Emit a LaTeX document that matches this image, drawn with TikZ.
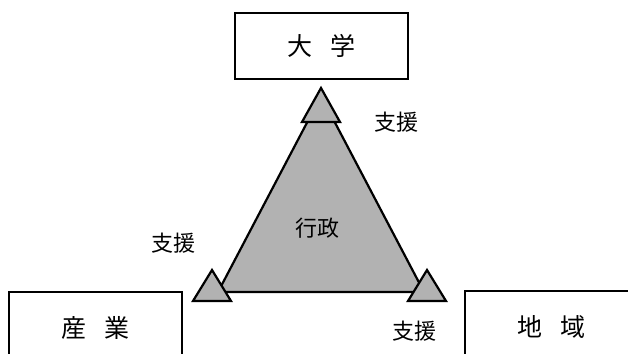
\documentclass[tikz,border=0pt]{standalone}
\usepackage{fontspec}
\newfontfamily\jp{Noto Sans CJK JP}
\begin{document}
\begin{tikzpicture}[x=1pt,y=-1pt,
  box/.style={draw=black,line width=1.8pt,inner sep=0pt},
  boxtext/.style={font=\jp\fontsize{25}{27}\selectfont,inner sep=0pt},
  lbl/.style={font=\jp\fontsize{22}{24}\selectfont,inner sep=0pt},
  tri/.style={draw=black,fill=black!30,line width=2.2pt,line join=miter},
]
\useasboundingbox (0,0) rectangle (628,353);
\clip (0,0) rectangle (628,353);
% big triangle
\coordinate (A) at (321,96);
\coordinate (B) at (218,292);
\coordinate (C) at (424,292);
\draw[tri] (A) -- (B) -- (C) -- cycle;
% small triangles
\draw[tri] (321,88) -- (340,122) -- (302,122) -- cycle;
\draw[tri] (212,270) -- (231,301) -- (193,301) -- cycle;
\draw[tri] (427,270) -- (446,301) -- (408,301) -- cycle;
% boxes
\node[box,minimum width=173pt,minimum height=66pt] (univ) at (321.5,46) {};
\node[boxtext] at (univ.center) {大\hspace{18pt}学};
\node[box,minimum width=173pt,minimum height=80pt] (ind) at (95.5,332) {};
\node[boxtext] at (95,328) {産\hspace{18pt}業};
\node[box,minimum width=173pt,minimum height=80pt] (reg) at (551.5,331) {};
\node[boxtext] at (551,327) {地\hspace{18pt}域};
% labels
\node[lbl] (gov) at (317,228) {行政};
\node[lbl] (s1) at (396,122) {支援};
\node[lbl] (s2) at (173,243) {支援};
\node[lbl] (s3) at (414,331) {支援};
\end{tikzpicture}
\end{document}
